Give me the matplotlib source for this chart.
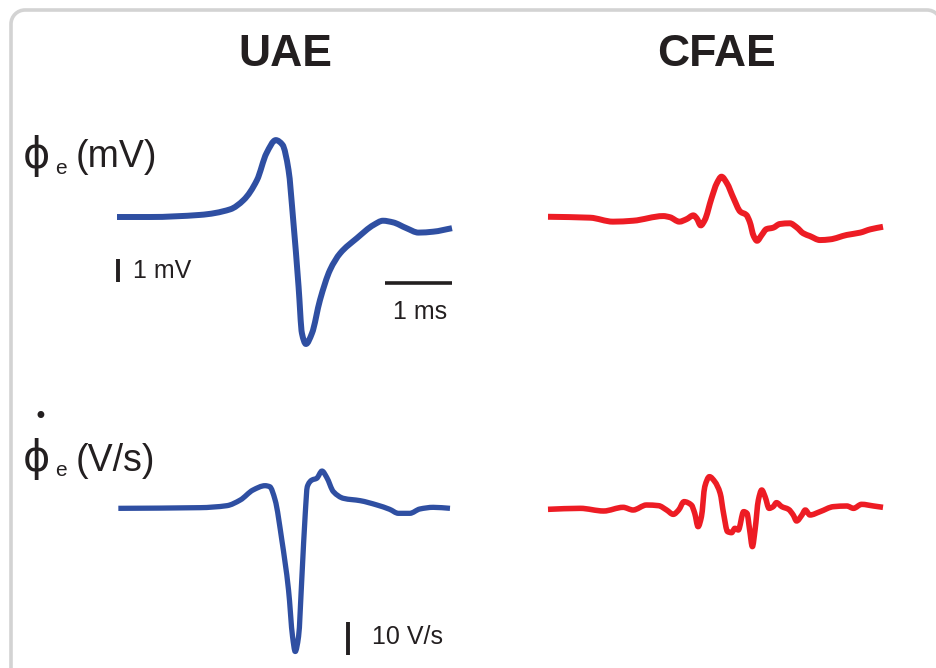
import matplotlib
matplotlib.use("Agg")
import numpy as np
import matplotlib.pyplot as plt
from matplotlib.patches import PathPatch
from matplotlib.path import Path
from matplotlib.transforms import IdentityTransform

# --- data (time in ms) ---
uae_t = [0.00, 0.49, 1.24, 1.69, 1.89, 2.09, 2.23, 2.37, 2.47, 2.56, 2.63, 2.71,
         2.76, 2.82, 2.91, 3.03, 3.18, 3.33, 3.58, 3.83, 3.97, 4.12, 4.32, 4.50,
         4.72, 5.00]
uae_mv = [0.00, 0.00, 0.09, 0.33, 0.73, 1.59, 2.73, 3.30, 3.10, 2.02, -0.13, -2.99,
          -4.99, -5.45, -4.99, -3.56, -2.27, -1.56, -0.91, -0.34, -0.16, -0.23,
          -0.48, -0.67, -0.63, -0.48]

cfae_t = [0.00, 0.63, 0.97, 1.27, 1.72, 1.82, 1.96, 2.07, 2.17, 2.22, 2.28, 2.34,
          2.44, 2.52, 2.59, 2.67, 2.77, 2.87, 2.96, 3.01, 3.07, 3.12, 3.19, 3.26,
          3.36, 3.46, 3.61, 3.71, 3.81, 3.91, 4.06, 4.21, 4.46, 4.66, 4.81, 5.00]
cfae_mv = [0.01, -0.03, -0.20, -0.16, 0.04, -0.01, -0.20, -0.09, 0.07, -0.06,
           -0.36, -0.13, 0.80, 1.45, 1.73, 1.45, 0.80, 0.23, 0.09, -0.20, -0.82,
           -1.02, -0.77, -0.52, -0.46, -0.30, -0.27, -0.44, -0.70, -0.82, -0.99,
           -0.96, -0.77, -0.67, -0.53, -0.42]

uae_dt = [0.02, 1.24, 1.64, 1.84, 2.03, 2.21, 2.28, 2.36, 2.46, 2.56, 2.62, 2.66,
          2.71, 2.76, 2.81, 2.84, 2.91, 2.98, 3.06, 3.13, 3.23, 3.38, 3.63, 3.88,
          4.07, 4.20, 4.37, 4.52, 4.72, 4.97]
uae_vs = [-0.1, 0.1, 0.7, 2.4, 5.4, 6.7, 6.4, 2.4, -9.6, -24.6, -38.6, -43.1,
          -38.6, -20.6, -1.6, 6.4, 8.4, 8.9, 11.1, 9.2, 4.9, 2.9, 2.2, 0.9,
          -0.4, -1.6, -1.6, -0.3, 0.2, -0.1]

cfae_dt = [0.00, 0.48, 0.83, 1.12, 1.27, 1.47, 1.65, 1.77, 1.87, 1.95, 2.03, 2.14,
           2.19, 2.24, 2.29, 2.34, 2.41, 2.49, 2.57, 2.62, 2.68, 2.74, 2.79, 2.84,
           2.92, 2.97, 3.01, 3.05, 3.09, 3.14, 3.19, 3.24, 3.30, 3.36, 3.41, 3.49,
           3.59, 3.66, 3.71, 3.79, 3.84, 3.91, 4.06, 4.26, 4.46, 4.56, 4.68, 4.86,
           5.00]
cfae_vs = [-0.1, 0.2, -0.6, 0.5, -0.3, 1.2, 1.0, -0.3, -1.6, -0.3, 2.2, 1.2,
           -1.3, -5.3, -2.3, 6.7, 9.7, 8.2, 4.7, -1.3, -6.8, -7.1, -5.8, -6.3,
           -0.8, -1.3, -6.3, -11.3, -6.3, 2.7, 5.7, 3.7, 0.2, 0.7, 1.9, 0.7,
           -0.1, -1.8, -3.6, -1.8, -0.3, -1.8, -0.8, 0.7, 0.9, 0.2, 1.4, 0.9,
           0.5]

W, H = 936, 668
BLUE = "#2f4fa2"
RED = "#ed1c24"
INK = "#231f20"
FONT = ["Liberation Sans", "DejaVu Sans"]

fig = plt.figure(figsize=(W / 100, H / 100), dpi=100)


def panel(x0, y0, px_ms, px_unit):
    # full-figure invisible axes; (x0, y0) is pixel position of t=0, v=0
    ax = fig.add_axes([0, 0, 1, 1])
    ax.set_xlim(-x0 / px_ms, (W - x0) / px_ms)
    ax.set_ylim((y0 - H) / px_unit, y0 / px_unit)
    ax.axis("off")
    ax.patch.set_alpha(0)
    return ax


def smooth_trace(ax, t, v, **kw):
    # pchip-style slopes, drawn as cubic bezier segments through the read points
    t = np.asarray(t, float)
    v = np.asarray(v, float)
    h = np.diff(t)
    d = np.diff(v) / h
    m = np.zeros_like(v)
    for i in range(1, len(v) - 1):
        if d[i - 1] * d[i] > 0:
            w1 = 2 * h[i] + h[i - 1]
            w2 = h[i] + 2 * h[i - 1]
            m[i] = (w1 + w2) / (w1 / d[i - 1] + w2 / d[i])
    m[0], m[-1] = d[0], d[-1]
    verts = [(t[0], v[0])]
    codes = [Path.MOVETO]
    for i in range(len(h)):
        verts += [(t[i] + h[i] / 3, v[i] + m[i] * h[i] / 3),
                  (t[i + 1] - h[i] / 3, v[i + 1] - m[i + 1] * h[i] / 3),
                  (t[i + 1], v[i + 1])]
        codes += [Path.CURVE4] * 3
    ax.add_patch(PathPatch(Path(verts, codes), fc="none", capstyle="butt",
                           joinstyle="round", **kw))


def ftext(x, y, s, **kw):
    kw.setdefault("family", FONT)
    fig.text(x / W, 1 - y / H, s, **kw)


# rounded frame in display pixels (open at bottom, runs off the right edge)
L, R, T, r = 11, 941, H - 10, 14
k = 0.5523 * r
frame_path = Path(
    [(L, -10), (L, T - r),
     (L, T - r + k), (L + r - k, T), (L + r, T),
     (R - r, T),
     (R - r + k, T), (R, T - r + k), (R, T - r),
     (R, -10)],
    [Path.MOVETO, Path.LINETO,
     Path.CURVE4, Path.CURVE4, Path.CURVE4,
     Path.LINETO,
     Path.CURVE4, Path.CURVE4, Path.CURVE4,
     Path.LINETO])
fig.add_artist(PathPatch(frame_path, transform=IdentityTransform(),
                         fc="none", ec="#d3d3d3", lw=2.6))

ax1 = panel(117, 217, 67, 23.3)
ax2 = panel(548, 217, 67, 23.3)
ax3 = panel(117, 508, 67, 3.33)
ax4 = panel(548, 509, 67, 3.33)

smooth_trace(ax1, uae_t, uae_mv, ec=BLUE, lw=4.3)
smooth_trace(ax2, cfae_t, cfae_mv, ec=RED, lw=4.3)
smooth_trace(ax3, uae_dt, uae_vs, ec=BLUE, lw=3.8)
smooth_trace(ax4, cfae_dt, cfae_vs, ec=RED, lw=4.0)

# scale bars
ax1.plot([0.02, 0.02], [-2.8, -1.8], color=INK, lw=2.8, solid_capstyle="butt")
ax1.text(0.24, -2.3, "1 mV", family=FONT, fontsize=18, color=INK, va="center", ha="left")
ax1.plot([4.0, 5.0], [-2.83, -2.83], color=INK, lw=2.6, solid_capstyle="butt")
ax1.text(4.52, -4.06, "1 ms", family=FONT, fontsize=18, color=INK, va="center", ha="center")
ax3.plot([3.45, 3.45], [-44.1, -34.1], color=INK, lw=2.8, solid_capstyle="butt")
ax3.text(3.80, -38.6, "10 V/s", family=FONT, fontsize=18, color=INK, va="center", ha="left")

# titles
ftext(285, 54, "UAE", fontsize=32, fontweight="bold", color=INK, ha="center", va="center")
ftext(716, 54, "CFAE", fontsize=32, fontweight="bold", color=INK, ha="center", va="center")

# row labels
ftext(23, 156, "\u03d5", family=["DejaVu Sans"], fontsize=30, color=INK, ha="left", va="center")
ftext(55, 168, "e", fontsize=15, color=INK, ha="left", va="center")
ftext(76, 157, "(mV)", fontsize=27, color=INK, ha="left", va="center")

ftext(23, 459, "\u03d5", family=["DejaVu Sans"], fontsize=30, color=INK, ha="left", va="center")
ftext(40.5, 417, "\u2022", family=["DejaVu Sans"], fontsize=17, color=INK, ha="center", va="center")
ftext(55, 471, "e", fontsize=15, color=INK, ha="left", va="center")
ftext(76, 461, "(V/s)", fontsize=27, color=INK, ha="left", va="center")

fig.savefig("out.png", dpi=100)
